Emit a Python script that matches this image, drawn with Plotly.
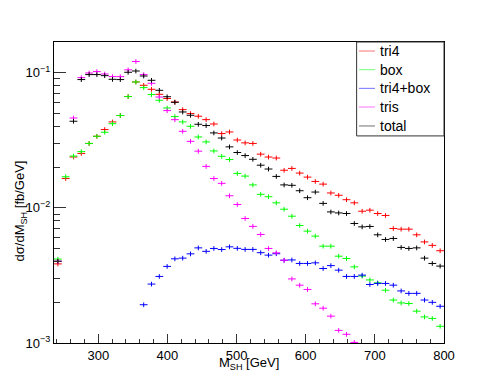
import plotly.graph_objects as go

# histogram bin centres (50 bins, 236-800 GeV)
m_sh = [241.6, 252.9, 264.2, 275.5, 286.8, 298.0, 309.3, 320.6, 331.9, 343.2,
        354.4, 365.7, 377.0, 388.3, 399.6, 410.8, 422.1, 433.4, 444.7, 456.0,
        467.2, 478.5, 489.8, 501.1, 512.4, 523.6, 534.9, 546.2, 557.5, 568.8,
        580.0, 591.3, 602.6, 613.9, 625.2, 636.4, 647.7, 659.0, 670.3, 681.6,
        692.8, 704.1, 715.4, 726.7, 738.0, 749.2, 760.5, 771.8, 783.1, 794.4]
half_bin = 5.64

tri4 = [0.00385, 0.0165, 0.0238, 0.0253, 0.0300, 0.0339, 0.0380, 0.0433, 0.0483, 0.0667,
        0.0855, 0.0808, 0.0755, 0.0693, 0.0645, 0.0608, 0.0534, 0.0499, 0.0477, 0.0450,
        0.0418, 0.0355, 0.0365, 0.0318, 0.0303, 0.0300, 0.0250, 0.0238, 0.0234, 0.0190,
        0.0196, 0.0181, 0.0169, 0.0157, 0.0150, 0.0129, 0.0124, 0.0115, 0.0109, 0.00945,
        0.00962, 0.00909, 0.00879, 0.00704, 0.00696, 0.00696, 0.00632, 0.00560, 0.00528, 0.00482]

box = [0.00418, 0.0170, 0.0242, 0.0261, 0.0300, 0.0339, 0.0363, 0.0420, 0.0483, 0.0667,
       0.0855, 0.0777, 0.0690, 0.0626, 0.0549, 0.0474, 0.0433, 0.0402, 0.0335, 0.0308,
       0.0264, 0.0241, 0.0228, 0.0180, 0.0172, 0.0148, 0.0126, 0.0121, 0.0109, 0.00978,
       0.00868, 0.00741, 0.00673, 0.00618, 0.00521, 0.00521, 0.00439, 0.00422, 0.00366, 0.00313,
       0.00293, 0.00279, 0.00246, 0.00208, 0.00198, 0.00196, 0.00172, 0.00156, 0.00152, 0.00133]

tri4_box = [None, None, None, None, None, None, None, None, None, None,
            None, 0.00192, 0.00273, 0.00311, 0.00369, 0.00420, 0.00425, 0.00457, 0.00506, 0.00477,
            0.00501, 0.00492, 0.00515, 0.00502, 0.00493, 0.00493, 0.00466, 0.00447, 0.00458, 0.00410,
            0.00412, 0.00388, 0.00388, 0.00392, 0.00356, 0.00374, 0.00346, 0.00311, 0.00311, 0.00318,
            0.00271, 0.00276, 0.00276, 0.00268, 0.00243, 0.00233, 0.00233, 0.00208, 0.00200, 0.00187]

tris = [0.00403, None, 0.0463, 0.0921, 0.0997, 0.1021, 0.0980, 0.0937, 0.0937, 0.1052,
        0.1213, 0.0970, 0.0836, 0.0662, 0.0525, 0.0450, 0.0369, 0.0311, 0.0263, 0.0203,
        0.0165, 0.0152, 0.0123, 0.0106, 0.00835, 0.00730, 0.00636, 0.00501, 0.00465, 0.00410,
        0.00298, 0.00268, 0.00249, 0.00195, 0.00181, 0.00158, 0.00124, 0.00116, 0.00101, None,
        None, None, None, None, None, None, None, None, None, None]

total = [0.00403, None, 0.0438, 0.0891, 0.0970, 0.0970, 0.0953, 0.0895, 0.0891, 0.1009,
         0.1031, 0.0947, 0.0880, 0.0742, 0.0665, 0.0605, 0.0513, 0.0485, 0.0416, 0.0407,
         0.0359, 0.0329, 0.0283, 0.0257, 0.0244, 0.0229, 0.0207, 0.0194, 0.0171, 0.0148,
         0.0147, 0.0134, 0.0119, 0.0131, 0.0108, 0.00934, 0.00918, 0.00909, 0.00767, 0.00724,
         0.00729, 0.00632, 0.00584, 0.00594, 0.00510, 0.00501, 0.00506, 0.00425, 0.00388, 0.00371]

series = [('tri4', tri4, '#ff0000'),
          ('box', box, '#00ff00'),
          ('tri4+box', tri4_box, '#0000ff'),
          ('tris', tris, '#ff00ff'),
          ('total', total, '#000000')]

y_tickvals = [1e-3, 1e-2, 1e-1]
y_ticktext = ['10<sup>\u22123</sup>', '10<sup>\u22122</sup>', '10<sup>\u22121</sup>']
y_minor = [k * d for d in (1e-3, 1e-2, 1e-1) for k in range(2, 10) if k * d < 0.17]
x_tickvals = [300, 400, 500, 600, 700, 800]

font = "Liberation Sans, Arial, sans-serif"

fig = go.Figure()
for name, vals, col in series:
    fig.add_trace(go.Scatter(
        x=m_sh, y=vals, mode='markers', name=name,
        marker=dict(size=1, color=col, opacity=0),
        error_x=dict(type='constant', value=half_bin, color=col, thickness=1, width=0),
        error_y=dict(type='percent', value=4, color=col, thickness=1, width=0),
        showlegend=False))

# ROOT-like legend box
leg_x0, leg_x1, leg_y0, leg_y1 = 0.776, 1.0, 0.688, 1.0
fig.add_shape(type='rect', xref='paper', yref='paper', x0=leg_x0, x1=leg_x1, y0=leg_y0, y1=leg_y1,
              line=dict(color='#333333', width=1), fillcolor='white', layer='above')
leg_rows = [0.970, 0.908, 0.846, 0.784, 0.721]
for (name, vals, col), yy in zip(series, leg_rows):
    fig.add_shape(type='line', xref='paper', yref='paper', x0=0.782, x1=0.823, y0=yy, y1=yy,
                  line=dict(color=col, width=1), opacity=0.55, layer='above')
    fig.add_annotation(xref='paper', yref='paper', x=0.831, y=yy, text=name, showarrow=False,
                       xanchor='left', yanchor='middle', font=dict(size=14, color='black', family=font))

# axis titles
fig.add_annotation(xref='paper', yref='paper', x=0.5, y=-0.068, text='M<sub>SH</sub>\u00a0[GeV]',
                   showarrow=False, xanchor='center', yanchor='middle',
                   font=dict(size=13, color='black', family=font))
fig.add_annotation(xref='paper', yref='paper', x=-0.085, y=0.44, text='d\u03c3/dM<sub>SH</sub>\u00a0[fb/GeV]',
                   showarrow=False, textangle=-90, xanchor='center', yanchor='middle',
                   font=dict(size=13, color='black', family=font))

# page body adds an 8px offset, so margins are shifted to keep the frame in place
fig.update_layout(
    width=498, height=385,
    margin=dict(l=46, r=62, t=34, b=50),
    paper_bgcolor='white', plot_bgcolor='white',
    font=dict(family=font, size=13, color='black'),
    xaxis=dict(range=[236, 800], showgrid=False, zeroline=False, showline=True, linecolor='black',
               linewidth=1, mirror=True, ticks='inside', ticklen=9, tickcolor='#333333',
               tickvals=x_tickvals, ticktext=[str(v) for v in x_tickvals],
               minor=dict(ticks='inside', ticklen=4, tickcolor='#333333', dtick=20, tick0=0)),
    yaxis=dict(type='log', range=[-3, -0.772], showgrid=False, zeroline=False, showline=True,
               linecolor='black', linewidth=1, mirror=True, ticks='inside', ticklen=12,
               tickcolor='#333333', tickvals=y_tickvals, ticktext=y_ticktext,
               minor=dict(ticks='inside', ticklen=6, tickcolor='#333333', tickvals=y_minor)),
)

fig.write_html("out.html")
